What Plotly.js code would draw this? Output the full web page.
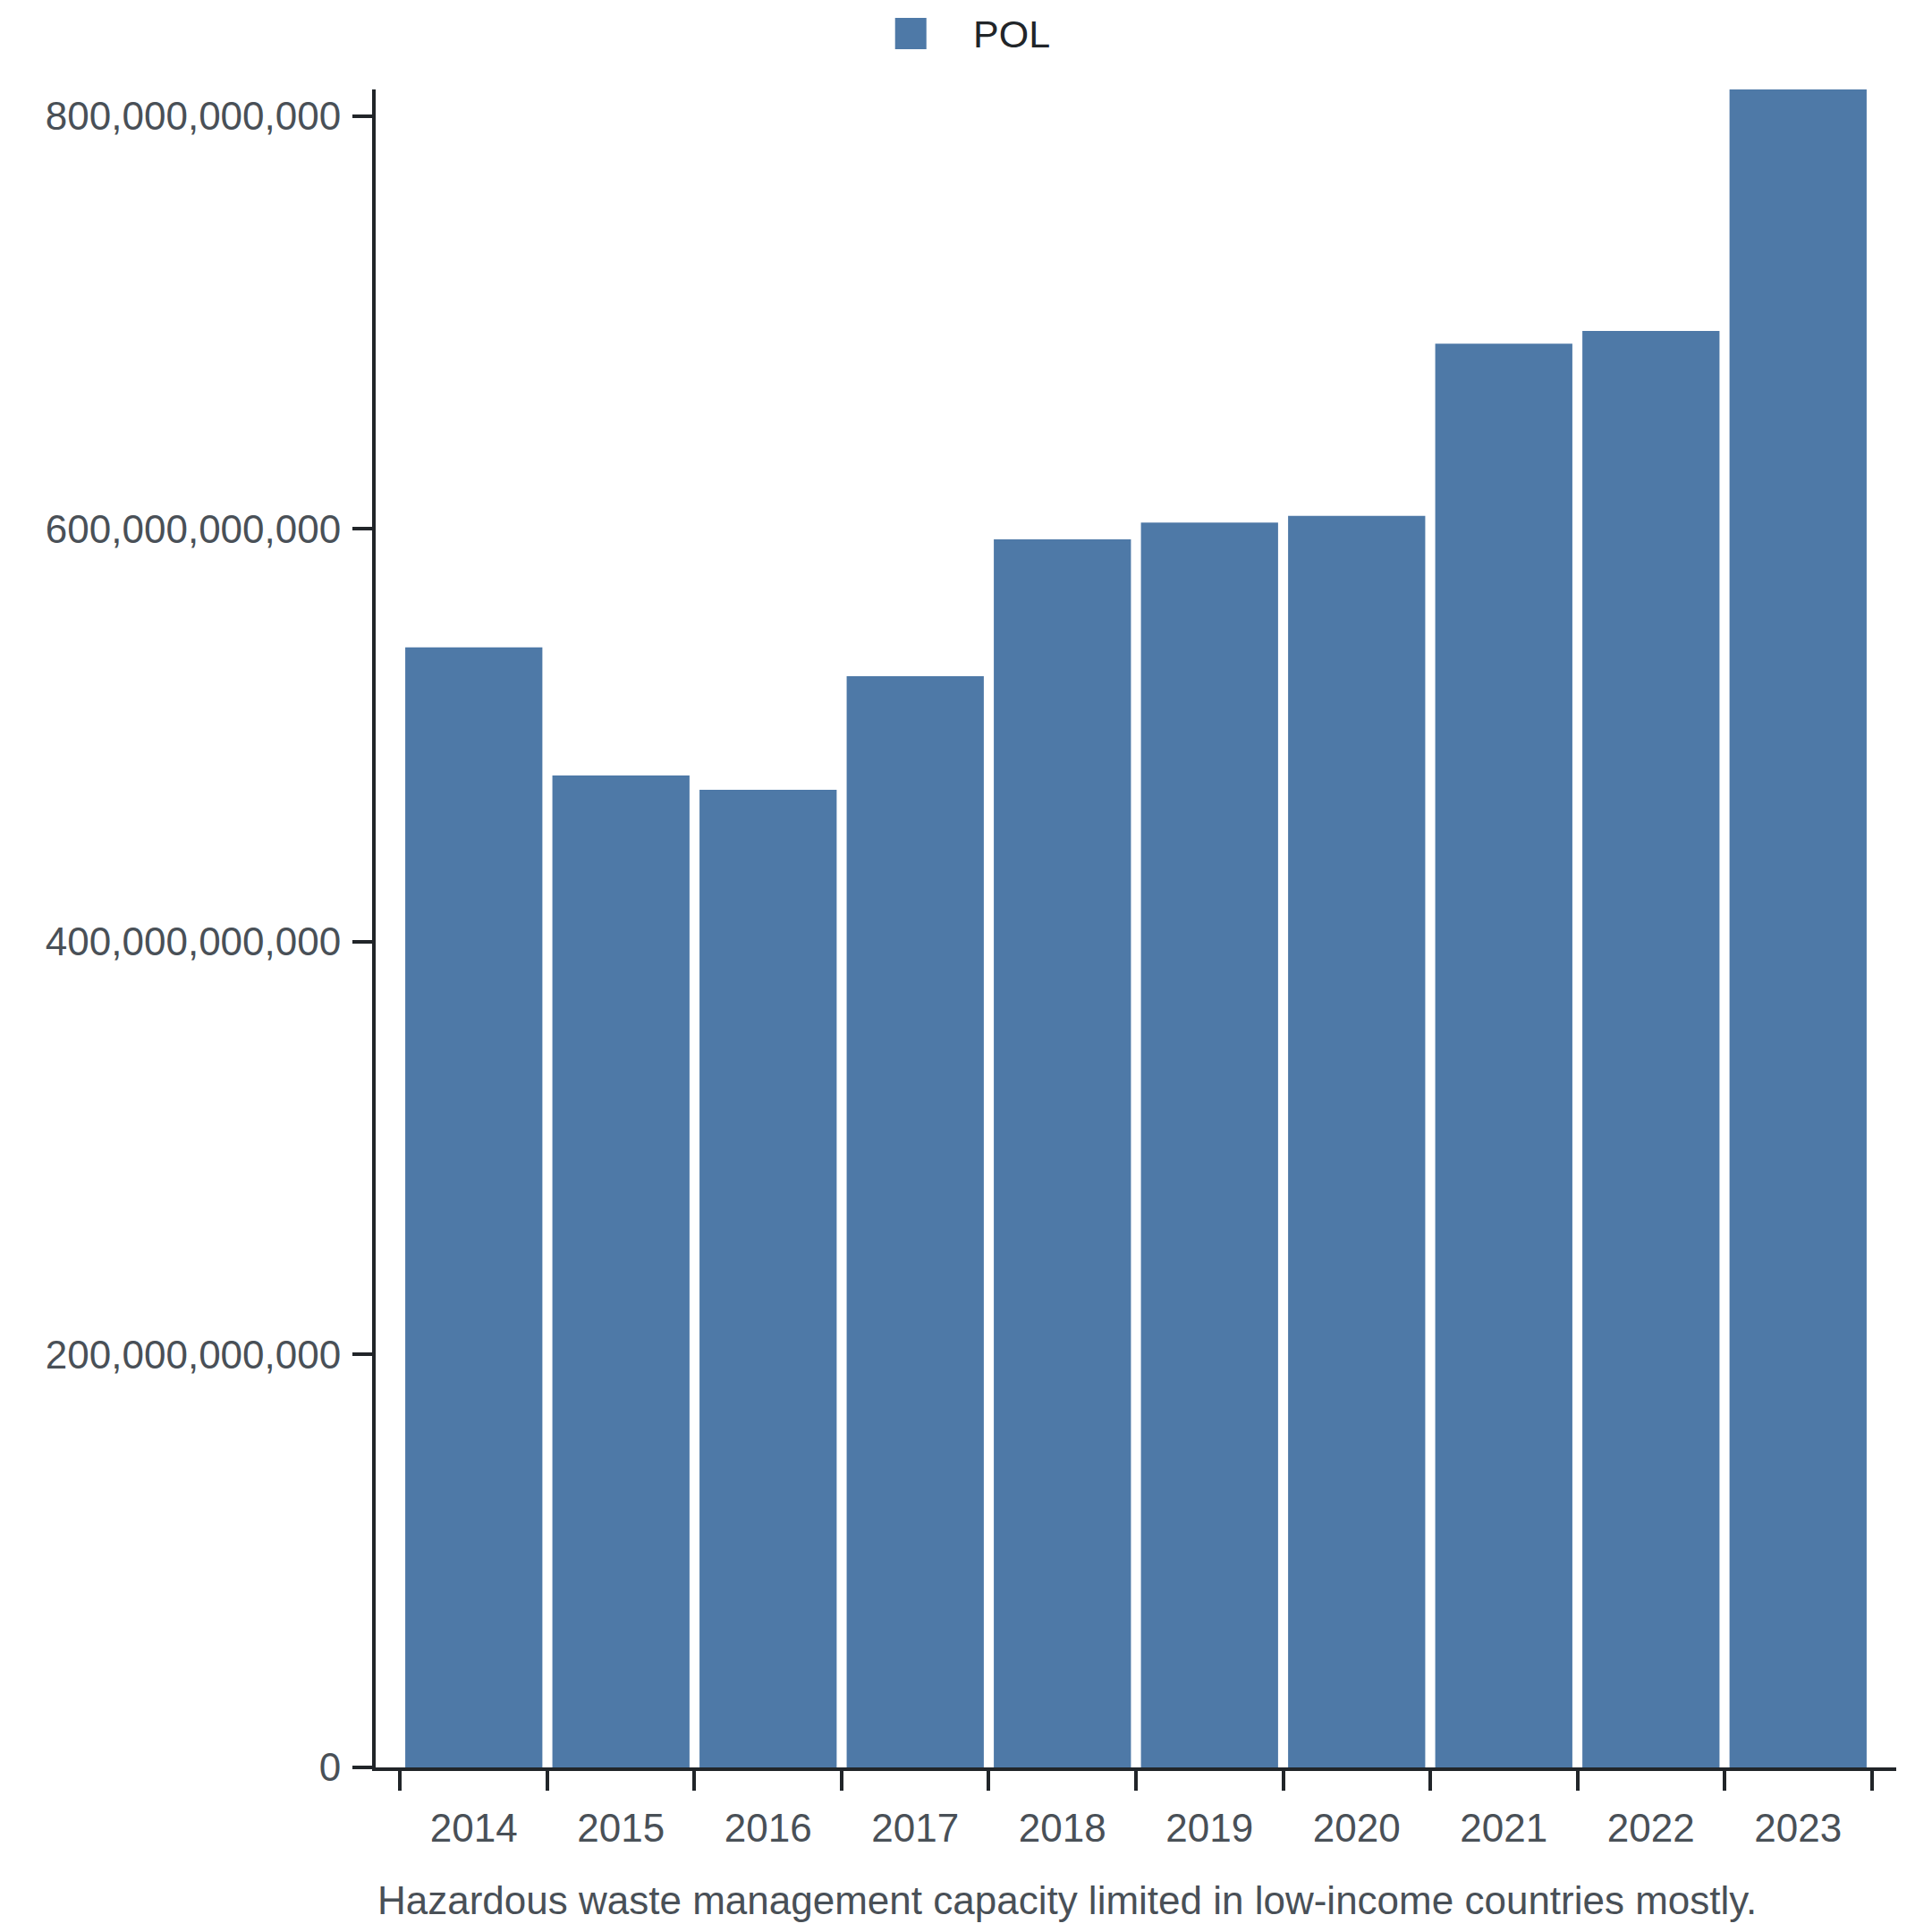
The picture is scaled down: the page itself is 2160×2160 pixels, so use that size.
<!DOCTYPE html>
<html>
<head>
<meta charset="utf-8">
<script src="https://cdn.plot.ly/plotly-3.0.1.min.js"></script>
<style>
  html, body { margin: 0; padding: 0; background: #fff; }
  #chart { width: 2160px; height: 2160px; }
</style>
</head>
<body>
<div id="chart"></div>
<script>
// values
var years = ['2014', '2015', '2016', '2017', '2018', '2019', '2020', '2021', '2022', '2023'];
var polValues = [542.5e9, 480.5e9, 473.6e9, 528.6e9, 594.9e9, 603.0e9, 606.2e9, 689.6e9, 695.8e9, 812.8e9];
var yTicks = [0, 200e9, 400e9, 600e9, 800e9];
var seriesName = 'POL';
var caption = 'Hazardous waste management capacity limited in low-income countries mostly.';

var ink = '#212529';
var textGrey = '#495057';
var barBlue = '#4e79a7';

var pol = {
  x: years,
  y: polValues,
  name: seriesName,
  type: 'bar',
  marker: { color: barBlue, line: { width: 0 } },
  showlegend: false
};

var layout = {
  width: 2160,
  height: 2160,
  margin: { l: 420, r: 40, t: 100, b: 184 },
  paper_bgcolor: '#fff',
  plot_bgcolor: '#fff',
  font: { family: 'Liberation Sans, Arial, sans-serif', size: 44, color: textGrey },
  bargap: 0.068,
  showlegend: false,
  xaxis: {
    type: 'category',
    range: [-0.667, 9.667],
    tickson: 'boundaries',
    ticks: 'outside',
    ticklen: 22,
    tickwidth: 4,
    tickcolor: ink,
    ticklabelstandoff: 26,
    showline: true,
    linecolor: ink,
    linewidth: 4,
    showgrid: false,
    zeroline: false,
    tickfont: { size: 44, color: textGrey }
  },
  yaxis: {
    range: [0, Math.max.apply(null, polValues)],
    tickvals: yTicks,
    tickformat: ',d',
    ticks: 'outside',
    ticklen: 22,
    tickwidth: 4,
    tickcolor: ink,
    ticklabelstandoff: 4,
    showline: true,
    linecolor: ink,
    linewidth: 4,
    showgrid: false,
    zeroline: false,
    tickfont: { size: 44, color: textGrey }
  },
  // hand-made legend so the swatch can be as large as in the reference
  shapes: [{
    type: 'rect',
    xref: 'paper', yref: 'paper',
    x0: 0.3416, x1: 0.3622, y0: 1.0240, y1: 1.0427,
    fillcolor: barBlue,
    line: { width: 0 }
  }],
  annotations: [{
    text: seriesName,
    xref: 'paper', yref: 'paper',
    x: 0.3915, y: 1.0333,
    xanchor: 'left', yanchor: 'middle',
    showarrow: false,
    font: { size: 43, color: ink }
  }, {
    text: caption,
    xref: 'paper', yref: 'paper',
    x: 0, y: -0.0789,
    xanchor: 'left', yanchor: 'middle',
    showarrow: false,
    font: { size: 44, color: textGrey }
  }]
};

Plotly.newPlot('chart', [pol], layout, { staticPlot: true, displayModeBar: false });
</script>
</body>
</html>
